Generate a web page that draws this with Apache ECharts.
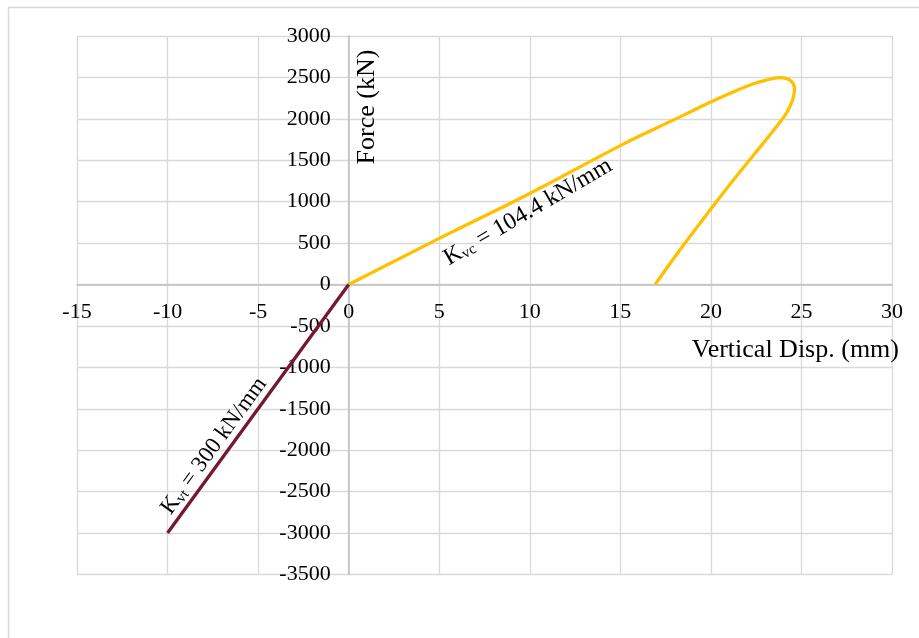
<!DOCTYPE html>
<html><head><meta charset="utf-8">
<script src="https://cdn.jsdelivr.net/npm/echarts@6/dist/echarts.min.js"></script>
<style>html,body{margin:0;padding:0;background:#fff}#c{width:919px;height:638px}</style>
</head><body><div id="c"></div>
<script>
// Compression branch (yellow)
const compDisp  = [0, 5, 10, 15, 17, 18.5, 19.96, 21.2, 22.35, 23.2, 23.83, 24.2, 24.38, 24.55, 24.62, 24.58, 24.47, 24.2, 23.83, 23.09, 22.35, 21.2, 19.96, 18.5, 16.92];
const compForce = [0, 557, 1100, 1677, 1890, 2045, 2200, 2320, 2424, 2475, 2497, 2486, 2464, 2420, 2364, 2290, 2202, 2082, 1965, 1760, 1560, 1250, 900, 480, 0];
// Tension branch (maroon)
const tensDisp  = [0, -10];
const tensForce = [0, -3000];
// Axis ranges
const xRange = [-15, 30, 5];
const yRange = [-3500, 3000, 500];
const xTitle = 'Vertical Disp. (mm)';
const yTitle = 'Force (kN)';

const FONT = 'Liberation Serif';
const pairs = (xs, ys) => xs.map((x, i) => [x, ys[i]]);

const W = 919, H = 638;
const G = {left: 77, right: 27, top: 36, bottom: 63.5};
const plotW = W - G.left - G.right, plotH = H - G.top - G.bottom;
// shift axes so they cross at zero
const yAxisShift = -plotW * (0 - xRange[0]) / (xRange[1] - xRange[0]);
const xAxisShift = -plotH * (0 - yRange[0]) / (yRange[1] - yRange[0]);

const chart = echarts.init(document.getElementById('c'), null, {renderer: 'canvas'});
chart.setOption({
  backgroundColor: '#ffffff',
  animation: false,
  grid: Object.assign({containLabel: false}, G),
  xAxis: {
    type: 'value', min: xRange[0], max: xRange[1], interval: xRange[2],
    position: 'bottom', offset: xAxisShift,
    axisLine: {show: true, onZero: false, lineStyle: {color: '#bfbfbf', width: 1.5}},
    axisTick: {show: false},
    axisLabel: {color: '#000', fontFamily: FONT, fontSize: 22, margin: 17, formatter: v => String(v)},
    splitLine: {show: true, lineStyle: {color: '#d9d9d9', width: 1.3}}
  },
  yAxis: {
    type: 'value', min: yRange[0], max: yRange[1], interval: yRange[2],
    position: 'left', offset: yAxisShift,
    axisLine: {show: true, onZero: false, lineStyle: {color: '#bfbfbf', width: 1.5}},
    axisTick: {show: false},
    axisLabel: {color: '#000', fontFamily: FONT, fontSize: 22, margin: 18, formatter: v => String(v)},
    splitLine: {show: true, lineStyle: {color: '#d9d9d9', width: 1.3}}
  },
  series: [
    {type: 'line', data: pairs(compDisp, compForce), showSymbol: false, smooth: 0.5,
     lineStyle: {color: '#FFC000', width: 3.3}, z: 3},
    {type: 'line', data: pairs(tensDisp, tensForce), showSymbol: false,
     lineStyle: {color: '#74192F', width: 3.3}, z: 3}
  ],
  graphic: [
    {type: 'rect', shape: {x: 8.5, y: 7.5, width: 1000, height: 1000}, silent: true, z: -10,
     style: {fill: 'none', stroke: '#d9d9d9', lineWidth: 1.5}},
    {type: 'text', x: 367, y: 107, rotation: Math.PI / 2, z: 10,
     style: {text: yTitle, font: '26px "Liberation Serif"', fill: '#000', align: 'center', verticalAlign: 'middle'}},
    {type: 'text', x: 899, y: 350, z: 10,
     style: {text: xTitle, font: '26px "Liberation Serif"', fill: '#000', align: 'right', verticalAlign: 'middle'}},
    {type: 'text', x: 528, y: 212, rotation: 0.53, z: 10,
     style: {text: '{a|K}{b|vc}{a| = 104.4 kN/mm}', align: 'center', verticalAlign: 'middle',
       rich: {a: {fontFamily: FONT, fontSize: 24, color: '#000'},
              b: {fontFamily: FONT, fontSize: 15, color: '#000', verticalAlign: 'bottom', padding: [9, 0, 0, 0]}}}},
    {type: 'text', x: 214, y: 446, rotation: 0.94, z: 10,
     style: {text: '{a|K}{b|vt}{a| = 300 kN/mm}', align: 'center', verticalAlign: 'middle',
       rich: {a: {fontFamily: FONT, fontSize: 23, color: '#000'},
              b: {fontFamily: FONT, fontSize: 15, color: '#000', verticalAlign: 'bottom', padding: [9, 0, 0, 0]}}}}
  ]
});
</script></body></html>
